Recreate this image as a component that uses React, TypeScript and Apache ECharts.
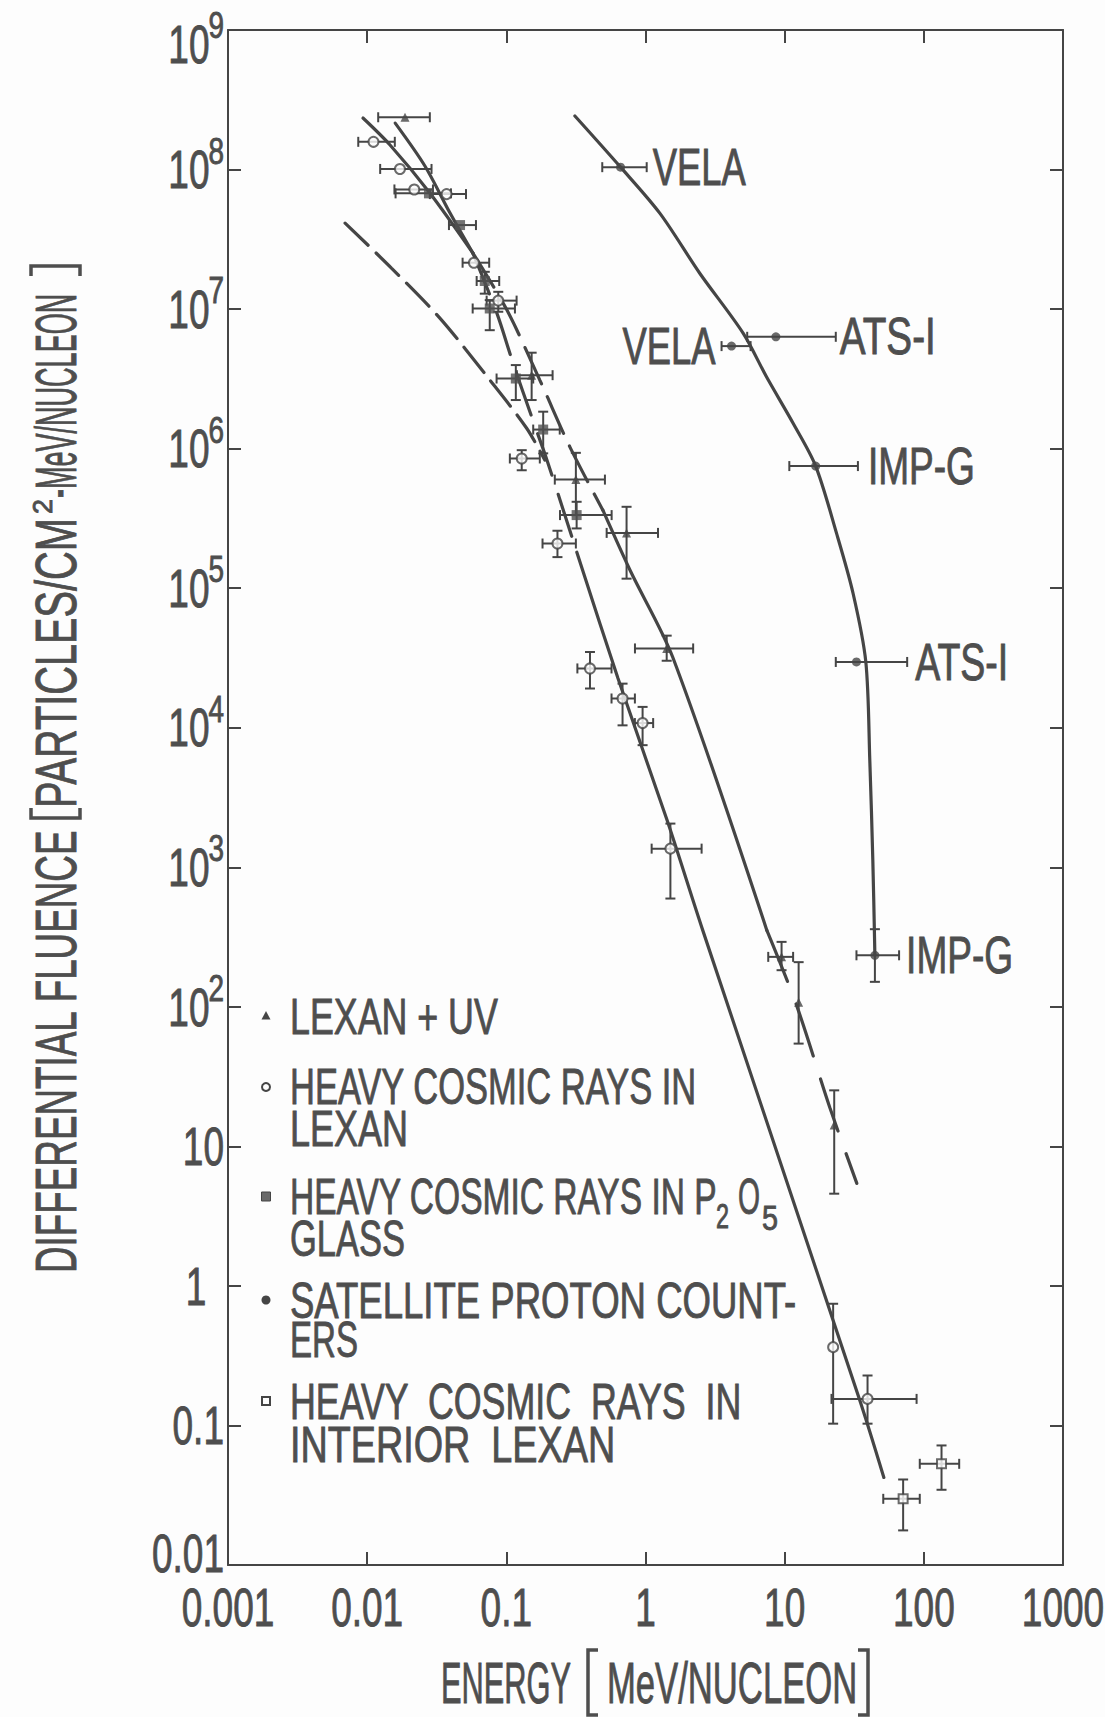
import { useEffect, useRef } from 'react';
import * as echarts from 'echarts';

const INK = '#454545';
const TEXT_INK = '#4e4e4e';
const PAPER = '#fdfdfd';
const LETTER_FONT = '"Liberation Sans Narrow", "Liberation Sans", "DejaVu Sans", sans-serif';
const CAP_RATIO = 0.716;

// Energy axis (MeV/nucleon): decades and their labels
const energyDecades = [-3, -2, -1, 0, 1, 2, 3];
const energyTickLabels = ['0.001', '0.01', '0.1', '1', '10', '100', '1000'];

// Fluence axis: decades, label base and superscript power
const fluenceDecades = [9, 8, 7, 6, 5, 4, 3, 2, 1, 0, -1, -2];
const fluenceTickBases = ['10', '10', '10', '10', '10', '10', '10', '10', '10', '1', '0.1', '0.01'];
const fluenceTickPowers = ['9', '8', '7', '6', '5', '4', '3', '2', '', '', '', ''];

// Measurements: [energy, fluence, energyLow, energyHigh, fluenceLow, fluenceHigh]; 0 = no bar
const lexanUv = [
  [0.0187, 2.37e8, 0.012, 0.0282, 0, 0],
  [0.152, 3.36e6, 0.119, 0.215, 2.23e6, 4.87e6],
  [0.316, 6.0e5, 0.223, 0.511, 3.34e5, 9.33e5],
  [0.731, 2.49e5, 0.526, 1.23, 1.17e5, 3.83e5],
  [1.42, 3.7e4, 0.84, 2.2, 3.02e4, 4.57e4],
  [9.5, 228, 7.62, 11.5, 183, 292],
  [12.6, 108, 0, 0, 54.5, 209],
  [22.7, 14.2, 0, 0, 4.58, 25.2],
];

const lexanHeavy = [
  [0.0111, 1.58e8, 0.00863, 0.0158, 0, 0],
  [0.0172, 1.01e8, 0.0124, 0.029, 0, 0],
  [0.0218, 7.2e7, 0.0157, 0.0297, 0, 0],
  [0.0372, 6.67e7, 0.0282, 0.0513, 0, 0],
  [0.0585, 2.15e7, 0.0485, 0.0753, 0, 0],
  [0.0875, 1.15e7, 0.0722, 0.1185, 9.57e6, 1.33e7],
  [0.129, 8.5e5, 0.106, 0.174, 7.0e5, 9.75e5],
  [0.233, 2.09e5, 0.182, 0.316, 1.67e5, 2.58e5],
  [0.399, 2.66e4, 0.324, 0.57, 1.91e4, 3.49e4],
  [0.684, 1.62e4, 0.57, 0.839, 1.04e4, 2.07e4],
  [0.953, 1.08e4, 0.839, 1.135, 7.5e3, 1.41e4],
  [1.51, 1360, 1.107, 2.53, 597, 2056],
  [22.3, 0.364, 0, 0, 0.103, 0.745],
  [39.4, 0.155, 21.7, 88.7, 0.103, 0.228],
];

const glassHeavy = [
  [0.0278, 6.75e7, 0.016, 0.04, 0, 0],
  [0.0465, 4.0e7, 0.0387, 0.0605, 0, 0],
  [0.07, 1.59e7, 0.0612, 0.0889, 1.29e7, 1.85e7],
  [0.076, 1.01e7, 0.0573, 0.1153, 7.06e6, 1.16e7],
  [0.117, 3.18e6, 0.0851, 0.156, 2.23e6, 3.97e6],
  [0.184, 1.37e6, 0.156, 0.242, 9.25e5, 1.84e6],
  [0.32, 3.34e5, 0.243, 0.571, 2.68e5, 4.16e5],
];

const satellite = [
  [0.662, 1.04e8, 0.489, 1.02, 0, 0],
  [4.15, 5.43e6, 3.52, 5.69, 0, 0],
  [8.65, 6.33e6, 5.38, 23.3, 0, 0],
  [16.7, 7.5e5, 10.8, 33.6, 0, 0],
  [32.8, 2.96e4, 23.3, 75.9, 0, 0],
  [44.5, 234, 32.8, 66.4, 151, 360],
];
const satelliteNames = ['VELA', 'VELA', 'ATS-I', 'IMP-G', 'ATS-I', 'IMP-G'];

const interiorHeavy = [
  [71.0, 0.0298, 51.1, 93.5, 0.0177, 0.041],
  [134, 0.0531, 93.5, 179.5, 0.0346, 0.0719],
];

// Fitted spectra: [energy, fluence]
const satelliteCurve = [
  [0.311, 2.42e8], [0.662, 1.04e8], [1.27, 4.85e7], [2.46, 1.8e7], [5.04, 6.7e6],
  [7.4, 3.27e6], [11.5, 1.52e6], [16.7, 7.5e5], [23.6, 2.47e5], [31.0, 9.2e4],
  [38.3, 2.96e4], [40.9, 5.85e3], [43.0, 1.12e3], [44.5, 234],
];
const lexanFit = [
  [0.00933, 2.34e8], [0.0146, 1.5e8], [0.0282, 6.79e7], [0.0575, 2.52e7], [0.0855, 9.35e6],
  [0.11, 4.31e6], [0.155, 1.6e6], [0.196, 8.27e5], [0.321, 1.81e5], [0.634, 2.26e4],
  [1.43, 2170], [2.58, 353], [34.7, 0.151], [51.6, 0.0424],
];
const uvFit = [
  [0.0159, 2.15e8], [0.026, 1.06e8], [0.0394, 4.88e7], [0.0575, 2.52e7], [0.101, 9.84e6],
  [0.174, 3.1e6], [0.286, 1.03e6], [0.494, 3.62e5], [0.773, 1.35e5], [1.57, 3.2e4],
  [7.45, 353], [12.2, 102], [21.1, 19.0], [33.0, 5.43],
];
const lowEnergyFit = [
  [0.00694, 4.13e7], [0.015, 1.96e7], [0.0333, 8.61e6], [0.0762, 3.1e6], [0.14, 1.4e6], [0.189, 8.28e5],
];

// Legend entries (one list of text lines per entry)
const legendLines = [
  ['LEXAN + UV'],
  ['HEAVY COSMIC RAYS IN', 'LEXAN'],
  ['HEAVY COSMIC RAYS IN P', 'GLASS'],
  ['SATELLITE PROTON COUNT-', 'ERS'],
  ['HEAVY  COSMIC  RAYS  IN', 'INTERIOR  LEXAN'],
];

// ---- layout of the lettering ----
const LEGEND_ROWS = [[1016], [1087, 1128.5], [1196.5, 1239], [1300, 1339], [1401, 1444.5]];
const LEGEND_WIDTHS = [[208], [407, 118], [427, 115], [506, 68], [452, 325]];
const LEGEND_MARK_X = 266;
const LEGEND_TEXT_X = 290;
const LABEL_LAYOUT = [
  { side: 'right', gap: 6, width: 93 },
  { side: 'left', gap: 6, width: 93 },
  { side: 'right', gap: 4, width: 96 },
  { side: 'right', gap: 10, width: 107 },
  { side: 'right', gap: 8, width: 93 },
  { side: 'right', gap: 7, width: 107 },
];
const TICK_CAP = 39;
const TICK_SX = 0.68;
const SUP_CAP = 27;
const SUP_SX = 0.74;
const X_LABEL_Y = 1607;
const Y_LABEL_RIGHT = 224;
const Y_LABEL_SHIFT = [14, 0, 0, 0, 0, 0, 0, 0, 0, 0, 0, -12];

const lg = Math.log10;

let measureCtx: CanvasRenderingContext2D | null = null;
function textWidth(text: string, fontSize: number, family: string) {
  if (!measureCtx) measureCtx = document.createElement('canvas').getContext('2d');
  measureCtx!.font = `${fontSize}px ${family}`;
  return measureCtx!.measureText(text).width;
}

function textEl(text: string, x: number, y: number, cap: number, sx: number, align: string, rotation = 0) {
  return {
    type: 'text',
    x,
    y,
    scaleX: sx,
    rotation,
    silent: true,
    z: 20,
    style: {
      text,
      fontSize: cap / CAP_RATIO,
      fontFamily: LETTER_FONT,
      fill: TEXT_INK,
      stroke: TEXT_INK,
      lineWidth: 0.9,
      align,
      verticalAlign: 'middle',
    },
  };
}

// lettering squeezed to a given width
function lettering(text: string, x: number, y: number, cap: number, width: number, opts: any = {}) {
  const sx = width / textWidth(text, cap / CAP_RATIO, LETTER_FONT);
  return textEl(text, x, y, cap, sx, opts.align || 'left', opts.rotation || 0);
}

function bracket(points: number[][]) {
  return {
    type: 'polyline',
    silent: true,
    z: 20,
    shape: { points },
    style: { stroke: TEXT_INK, lineWidth: 3.5, fill: null, lineJoin: 'miter' },
  };
}

// rows in axis space: [energy, log fluence, eLow, eHigh, logLow, logHigh, hasX, hasY]
function errorRows(rows: number[][]) {
  return rows.map((r) => [
    r[0],
    lg(r[1]),
    r[2] > 0 ? r[2] : r[0],
    r[3] > 0 ? r[3] : r[0],
    r[4] > 0 ? lg(r[4]) : lg(r[1]),
    r[5] > 0 ? lg(r[5]) : lg(r[1]),
    r[2] > 0 ? 1 : 0,
    r[4] > 0 ? 1 : 0,
  ]);
}

function renderErrorBars(params: any, api: any) {
  const x = api.value(0);
  const y = api.value(1);
  const c = api.coord([x, y]);
  const style = { stroke: INK, lineWidth: 2 };
  const cap = 5;
  const children: any[] = [];
  if (api.value(6) > 0) {
    const a = api.coord([api.value(2), y]);
    const b = api.coord([api.value(3), y]);
    children.push({ type: 'line', shape: { x1: a[0], y1: c[1], x2: b[0], y2: c[1] }, style });
    children.push({ type: 'line', shape: { x1: a[0], y1: c[1] - cap, x2: a[0], y2: c[1] + cap }, style });
    children.push({ type: 'line', shape: { x1: b[0], y1: c[1] - cap, x2: b[0], y2: c[1] + cap }, style });
  }
  if (api.value(7) > 0) {
    const a = api.coord([x, api.value(4)]);
    const b = api.coord([x, api.value(5)]);
    children.push({ type: 'line', shape: { x1: c[0], y1: a[1], x2: c[0], y2: b[1] }, style });
    children.push({ type: 'line', shape: { x1: c[0] - cap, y1: a[1], x2: c[0] + cap, y2: a[1] }, style });
    children.push({ type: 'line', shape: { x1: c[0] - cap, y1: b[1], x2: c[0] + cap, y2: b[1] }, style });
  }
  return { type: 'group', children };
}

const toAxis = (pts: number[][]) => pts.map((p) => [p[0], lg(p[1])]);

function fitLine(data: number[][], dash: any) {
  return {
    type: 'line',
    data: toAxis(data),
    xAxisIndex: 0,
    yAxisIndex: 0,
    showSymbol: false,
    symbol: 'none',
    smooth: 0.3,
    silent: true,
    z: 2,
    lineStyle: { color: INK, width: 3.2, type: dash, cap: 'round' },
  };
}

const frame = {
  axisLine: { show: true, onZero: false, lineStyle: { color: INK, width: 2 } },
  axisTick: { show: true, inside: true, length: 13, lineStyle: { color: INK, width: 2 } },
  minorTick: { show: false },
  splitLine: { show: false },
  axisLabel: { show: false },
};

function scatter(name: string, rows: number[][], symbol: string, size: number, itemStyle: any) {
  return {
    type: 'scatter',
    name,
    data: rows.map((p) => [p[0], lg(p[1])]),
    symbol,
    symbolSize: size,
    itemStyle,
    silent: true,
    z: 5,
  };
}

function buildOption() {
  const errorData = errorRows([...lexanUv, ...lexanHeavy, ...glassHeavy, ...satellite, ...interiorHeavy]);
  return {
    animation: false,
    backgroundColor: PAPER,
    grid: { left: 228, top: 30, width: 835, height: 1535, containLabel: false },
    xAxis: [
      { type: 'log', logBase: 10, min: 0.001, max: 1000, splitNumber: 6, position: 'bottom', ...frame },
      { type: 'log', logBase: 10, min: 0.001, max: 1000, splitNumber: 6, position: 'top', ...frame },
    ],
    // fluence decades: the axis runs over log10 of the fluence
    yAxis: [
      { type: 'value', min: -2, max: 9, interval: 1, position: 'left', ...frame },
      { type: 'value', min: -2, max: 9, interval: 1, position: 'right', ...frame },
    ],
    series: [
      fitLine(satelliteCurve, 'solid'),
      fitLine(lexanFit.slice(0, 4), 'solid'),
      fitLine(lexanFit.slice(3, 9), [44, 20]),
      fitLine(lexanFit.slice(8), 'solid'),
      fitLine(uvFit.slice(0, 4), 'solid'),
      fitLine(uvFit.slice(3, 8), [40, 14]),
      fitLine(uvFit.slice(7, 11), 'solid'),
      fitLine(uvFit.slice(10), [55, 24]),
      fitLine(lowEnergyFit, [32, 11]),
      {
        type: 'custom',
        name: 'error bars',
        xAxisIndex: 0,
        yAxisIndex: 0,
        renderItem: renderErrorBars,
        dimensions: ['x', 'y', 'xLo', 'xHi', 'yLo', 'yHi', 'hasX', 'hasY'],
        encode: { x: 0, y: 1 },
        data: errorData,
        silent: true,
        z: 3,
      },
      scatter('LEXAN + UV', lexanUv, 'triangle', 9, { color: INK }),
      scatter('HEAVY COSMIC RAYS IN LEXAN', lexanHeavy, 'circle', 10, { color: PAPER, borderColor: INK, borderWidth: 2 }),
      scatter('HEAVY COSMIC RAYS IN P2O5 GLASS', glassHeavy, 'rect', 10, { color: '#505050' }),
      scatter('SATELLITE PROTON COUNTERS', satellite, 'circle', 9, { color: INK }),
      scatter('HEAVY COSMIC RAYS IN INTERIOR LEXAN', interiorHeavy, 'rect', 9, { color: PAPER, borderColor: INK, borderWidth: 2 }),
    ],
  };
}

function legendMark(kind: number, y: number) {
  const x = LEGEND_MARK_X;
  if (kind === 0) {
    return { type: 'polygon', silent: true, shape: { points: [[x, y - 5], [x - 4.5, y + 3.5], [x + 4.5, y + 3.5]] }, style: { fill: INK } };
  }
  if (kind === 1) {
    return { type: 'circle', silent: true, shape: { cx: x, cy: y, r: 4 }, style: { fill: PAPER, stroke: INK, lineWidth: 2 } };
  }
  if (kind === 2) {
    return { type: 'rect', silent: true, shape: { x: x - 4.5, y: y - 4.5, width: 9, height: 9 }, style: { fill: '#6a6a6a', stroke: INK, lineWidth: 1 } };
  }
  if (kind === 3) {
    return { type: 'circle', silent: true, shape: { cx: x, cy: y, r: 4.5 }, style: { fill: INK } };
  }
  return { type: 'rect', silent: true, shape: { x: x - 4, y: y - 4, width: 8, height: 8 }, style: { fill: PAPER, stroke: INK, lineWidth: 2 } };
}

function buildGraphics(chart: any) {
  const g: any[] = [];

  // energy tick labels, placed at the axis ticks
  energyDecades.forEach((e, i) => {
    const x = chart.convertToPixel({ xAxisIndex: 0 }, Math.pow(10, e));
    g.push(textEl(energyTickLabels[i], x, X_LABEL_Y, TICK_CAP, TICK_SX, 'center'));
  });

  // fluence tick labels with raised powers
  fluenceDecades.forEach((e, i) => {
    const y = chart.convertToPixel({ yAxisIndex: 0 }, e) + Y_LABEL_SHIFT[i];
    const base = fluenceTickBases[i];
    const pow = fluenceTickPowers[i];
    let right = Y_LABEL_RIGHT;
    if (pow) {
      const sw = textWidth(pow, SUP_CAP / CAP_RATIO, LETTER_FONT) * SUP_SX;
      g.push(textEl(pow, right, y - 19, SUP_CAP, SUP_SX, 'right'));
      right -= sw - 1;
    }
    if (base === '1') g.push(textEl(base, 196, y, TICK_CAP, TICK_SX, 'center'));
    else g.push(textEl(base, right, y, TICK_CAP, TICK_SX, 'right'));
  });

  // satellite instrument labels beside their bars
  satellite.forEach((p, i) => {
    const lay = LABEL_LAYOUT[i];
    const anchor = chart.convertToPixel({ seriesIndex: 13 }, [lay.side === 'right' ? p[3] : p[2], lg(p[1])]);
    const x = lay.side === 'right' ? anchor[0] + lay.gap : anchor[0] - lay.gap;
    g.push(lettering(satelliteNames[i], x, anchor[1], 37, lay.width, { align: lay.side === 'right' ? 'left' : 'right' }));
  });

  // legend
  legendLines.forEach((lines, k) => {
    g.push(legendMark(k, LEGEND_ROWS[k][0]));
    lines.forEach((line, j) => {
      g.push(lettering(line, LEGEND_TEXT_X, LEGEND_ROWS[k][j], 36, LEGEND_WIDTHS[k][j]));
    });
  });
  // P2O5 subscripts
  g.push(lettering('2', 716, 1216, 25, 13));
  g.push(lettering('O', 738, 1196.5, 36, 22));
  g.push(lettering('5', 762, 1218, 25, 16));

  // energy axis title
  g.push(lettering('ENERGY', 441, 1683, 41, 130));
  g.push(bracket([[598, 1650], [588, 1650], [588, 1715], [598, 1715]]));
  g.push(lettering('MeV/NUCLEON', 607, 1683, 41, 250));
  g.push(bracket([[858, 1650], [868, 1650], [868, 1715], [858, 1715]]));

  // fluence axis title, read upward
  g.push(lettering('DIFFERENTIAL FLUENCE', 56, 1273, 41, 444, { rotation: Math.PI / 2 }));
  g.push(bracket([[31, 808], [31, 818], [80, 818], [80, 808]]));
  g.push(lettering('PARTICLES/CM', 56, 808, 41, 290, { rotation: Math.PI / 2 }));
  g.push(lettering('2', 42, 514, 20, 15, { rotation: Math.PI / 2 }));
  g.push(lettering('-MeV/NUCLEON', 56, 498, 41, 204, { rotation: Math.PI / 2 }));
  g.push(bracket([[31, 276], [31, 266], [80, 266], [80, 276]]));

  return g;
}

export default function App() {
  const ref = useRef<HTMLDivElement>(null);
  useEffect(() => {
    const chart = echarts.init(ref.current!, null, { renderer: 'svg' });
    chart.setOption(buildOption() as any);
    chart.setOption({ graphic: buildGraphics(chart) } as any);
    return () => chart.dispose();
  }, []);
  return (
    <div
      ref={ref}
      style={{ position: 'absolute', left: 0, top: 0, width: 1105, height: 1717, background: PAPER }}
    />
  );
}
